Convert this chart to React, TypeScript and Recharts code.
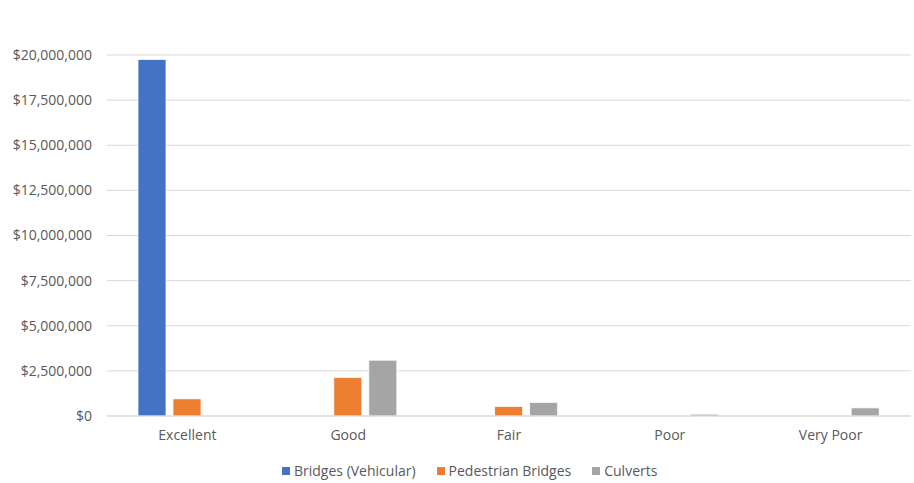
import { BarChart, Bar, XAxis, YAxis, CartesianGrid } from 'recharts';

const categories = ['Excellent', 'Good', 'Fair', 'Poor', 'Very Poor'];
const bridges = [19750000, 0, 0, 0, 0];
const pedestrian = [950000, 2130000, 530000, 0, 0];
const culverts = [0, 3090000, 750000, 100000, 450000];
const yTicks = [0, 2500000, 5000000, 7500000, 10000000, 12500000, 15000000, 17500000, 20000000];

const series = [
  { key: 'bridges', name: 'Bridges (Vehicular)', color: '#4472C4' },
  { key: 'pedestrian', name: 'Pedestrian Bridges', color: '#ED7D31' },
  { key: 'culverts', name: 'Culverts', color: '#A5A5A5' },
];

const data = categories.map((name, i) => ({
  name,
  bridges: bridges[i],
  pedestrian: pedestrian[i],
  culverts: culverts[i],
}));

const FONT = '"Open Sans", Calibri, sans-serif';
const TEXT = '#595959';

const formatDollars = (v: number) => '$' + v.toLocaleString('en-US');

// legend sits under the axis, outside the svg so it doesn't shrink the plot
const LegendRow = () => (
  <div
    style={{
      position: 'absolute',
      left: 282,
      top: 461,
      display: 'flex',
      gap: 21,
      fontFamily: FONT,
      fontSize: 14,
      lineHeight: '20px',
      color: TEXT,
      whiteSpace: 'nowrap',
    }}
  >
    {series.map((s) => (
      <div key={s.key} style={{ display: 'flex', alignItems: 'center' }}>
        <span style={{ width: 8, height: 8, background: s.color, marginRight: 4, display: 'inline-block' }} />
        <span>{s.name}</span>
      </div>
    ))}
  </div>
);

const App = () => {
  return (
    <div style={{ position: 'absolute', left: 0, top: 0, width: 914, height: 483, background: '#fff' }}>
      <BarChart
        width={914}
        height={483}
        data={data}
        margin={{ top: 55, right: 3, left: 0, bottom: 37 }}
        barGap={7}
      >
        <CartesianGrid vertical={false} stroke="#D9D9D9" />
        <XAxis
          dataKey="name"
          height={30}
          axisLine={{ stroke: '#D9D9D9' }}
          tickLine={false}
          tickMargin={8}
          tick={{ fill: TEXT, fontSize: 14, fontFamily: FONT }}
        />
        <YAxis
          width={107}
          domain={[0, 20000000]}
          ticks={yTicks}
          axisLine={false}
          tickLine={false}
          tickMargin={9}
          tickFormatter={formatDollars}
          tick={{ fill: TEXT, fontSize: 14, fontFamily: FONT }}
        />
        {series.map((s) => (
          <Bar
            key={s.key}
            dataKey={s.key}
            name={s.name}
            fill={s.color}
            barSize={28}
            stroke="#fff"
            strokeWidth={0.75}
            isAnimationActive={false}
          />
        ))}
      </BarChart>
      <LegendRow />
    </div>
  );
};

export default App;
